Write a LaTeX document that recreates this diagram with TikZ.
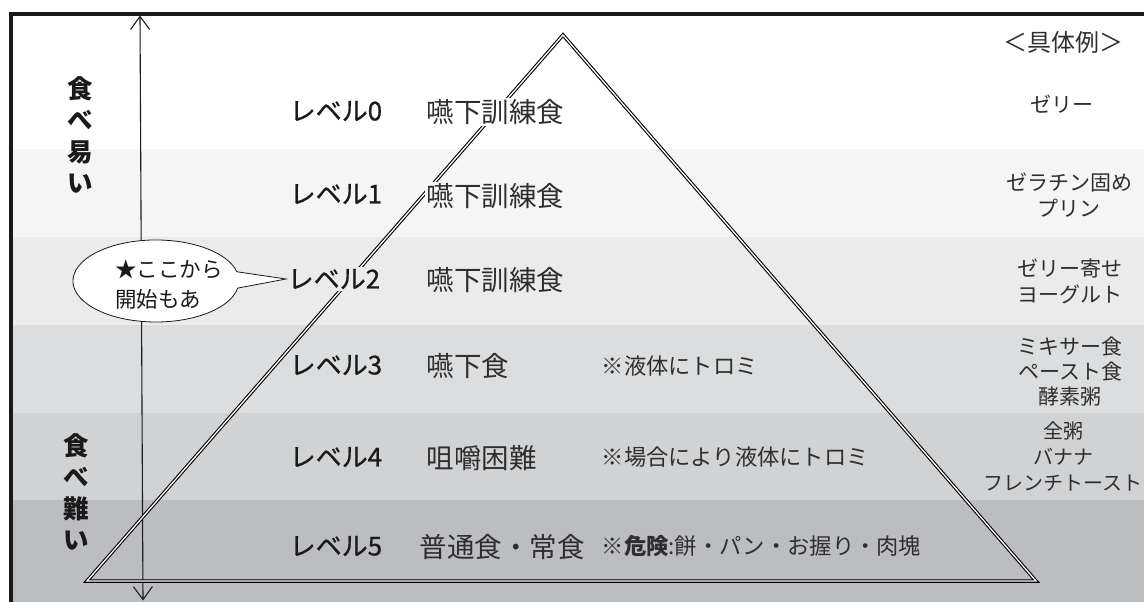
\documentclass[tikz,border=0pt]{standalone}
\usepackage{fontspec}
\newfontfamily\jp{Noto Sans CJK JP}
\newfontfamily\jpm{Noto Sans CJK JP}[FakeBold=0.7]
\usetikzlibrary{arrows.meta}
\definecolor{bA}{HTML}{FFFFFF}
\definecolor{bB}{HTML}{F5F5F6}
\definecolor{bC}{HTML}{EBEBEC}
\definecolor{bD}{HTML}{DCDDDE}
\definecolor{bE}{HTML}{D1D2D4}
\definecolor{bF}{HTML}{BCBDC0}
\definecolor{ink}{HTML}{1A1A1A}
\definecolor{soft}{HTML}{2E2E2E}
\tikzset{
  lvl/.style={anchor=west, font=\jpm\fontsize{26}{30}\selectfont, text=ink, inner sep=1.5pt},
  food/.style={anchor=west, font=\jp\fontsize{27.5}{30}\selectfont, text=soft, inner sep=1.5pt},
  note/.style={anchor=west, font=\jp\fontsize{22.3}{26}\selectfont, text=soft, inner sep=1.5pt},
  ex/.style={align=center, font=\jp\fontsize{21}{26}\selectfont, text=soft, inner sep=0pt},
  side/.style={align=center, font=\jp\bfseries\fontsize{25.5}{31.5}\selectfont, text=ink, inner sep=0pt},
  pyr/.style={draw=black, line width=1.1pt, double=white, double distance=1.3pt, line join=miter},
  frame/.style={draw=ink, line width=3.8pt},
  axis/.style={draw=ink, line width=1.1pt, {Straight Barb[length=13pt,width=19pt]}-{Straight Barb[length=13pt,width=19pt]}},
  callout/.style={draw=ink, line width=0.8pt, fill=white},
}
\begin{document}
\begin{tikzpicture}[x=1pt,y=-1pt]
\useasboundingbox (0,0) rectangle (1144,602);
% bands
\fill[bA] (13,15) rectangle (1144,149);
\fill[bB] (13,149) rectangle (1144,237);
\fill[bC] (13,237) rectangle (1144,325);
\fill[bD] (13,325) rectangle (1144,413);
\fill[bE] (13,413) rectangle (1144,500);
\fill[bF] (13,500) rectangle (1144,602);
% frame
\draw[frame] (11.3,602) -- (11.3,13.8) -- (1144,13.8);
% axis arrow
\coordinate (atop) at (140,15.5);
\coordinate (abot) at (143,600.5);
\draw[axis] (abot) -- (atop);
% pyramid
\coordinate (apex) at (563,35);
\coordinate (bl) at (87,581);
\coordinate (br) at (1036,581);
\draw[pyr] (apex) -- (br) -- (bl) -- cycle;
% side labels
\node[side] (easy) at (80,135) {食\\べ\\易\\い};
\node[side] (hard) at (76,492) {食\\べ\\難\\い};
% level labels
\node[lvl, fill=bA] (L0) at (288,111) {レベル0};
\node[lvl, fill=bB] (L1) at (288,194) {レベル1};
\node[lvl, fill=bC] (L2) at (286,279) {レベル2};
\node[lvl, fill=bD] (L3) at (288,365) {レベル3};
\node[lvl, fill=bE] (L4) at (288,457) {レベル4};
\node[lvl, fill=bF] (L5) at (288,546) {レベル5};
% food types
\node[food, fill=bA] (F0) at (425,112) {嚥下訓練食};
\node[food, fill=bB] (F1) at (425,196) {嚥下訓練食};
\node[food, fill=bC] (F2) at (425,280) {嚥下訓練食};
\node[food, fill=bD] (F3) at (425,366) {嚥下食};
\node[food, fill=bE] (F4) at (425,458) {咀嚼困難};
\node[food, fill=bF] (F5) at (418,547) {普通食・常食};
% notes
\node[note, fill=bD] (N3) at (600,366) {※液体にトロミ};
\node[note, fill=bE] (N4) at (600,457) {※場合により液体にトロミ};
\node[note, fill=bF] (N5) at (600,546) {{\bfseries ※危険}:餅・パン・お握り・肉塊};
% examples
\node[ex, font=\jp\fontsize{24}{28}\selectfont] (EH) at (1063,42) {＜具体例＞};
\node[ex] (E0) at (1062,104) {ゼリー};
\node[ex] (E1) at (1069,195) {ゼラチン固め\\プリン};
\node[ex] (E2) at (1070,281) {ゼリー寄せ\\ヨーグルト};
\node[ex, font=\jp\fontsize{21}{25}\selectfont] (E3) at (1070,372) {ミキサー食\\ペースト食\\酵素粥};
\node[ex, font=\jp\fontsize{20}{26}\selectfont] (E4) at (1063,456) {全粥\\バナナ\\フレンチトースト};
% callout
\draw[callout] (237.7,288.1) arc[start angle=10, end angle=347, x radius=83, y radius=41] -- (L2.west) -- cycle;
\node[anchor=west, align=left, font=\jp\fontsize{21.5}{30}\selectfont, text=ink, inner sep=0pt] (CT) at (115,285) {★ここから\\開始もあ};
\end{tikzpicture}
\end{document}
